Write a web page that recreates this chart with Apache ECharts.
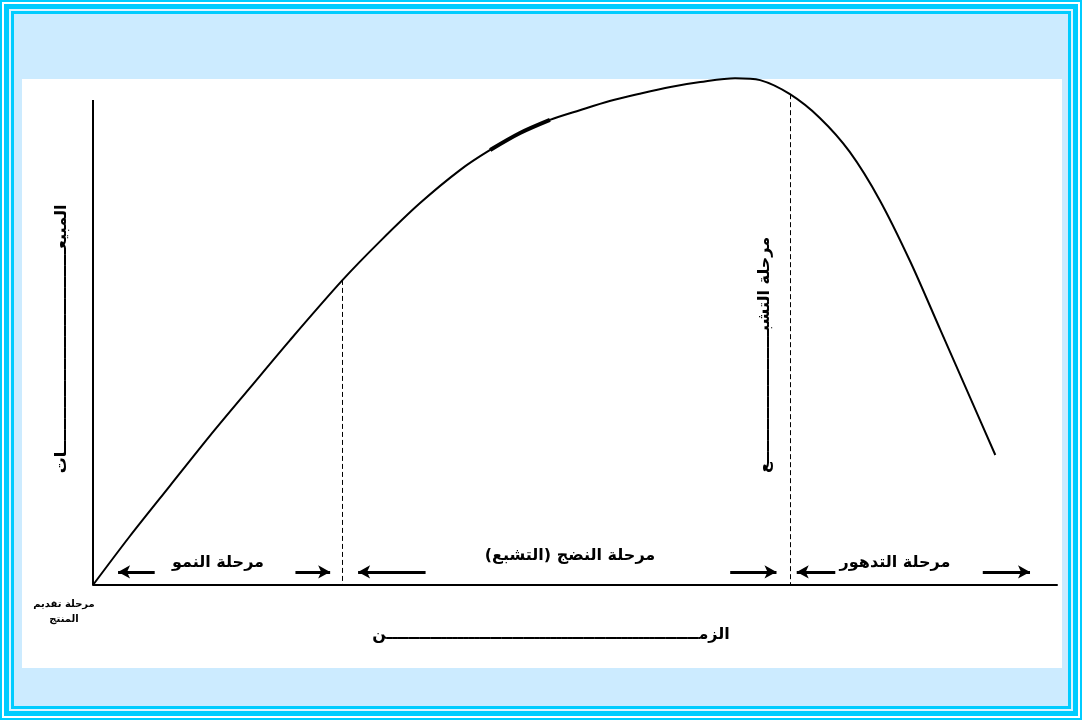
<!DOCTYPE html>
<html>
<head>
<meta charset="utf-8">
<script src="https://cdn.jsdelivr.net/npm/echarts@6/dist/echarts.min.js"></script>
<style>
  html, body { margin: 0; padding: 0; background: #ffffff; }
  #chart { width: 1082px; height: 720px; }
</style>
</head>
<body>
<div id="chart"></div>
<script>
// Product life cycle: sales over time
const timeValues  = [0, 3.8, 8.0, 12.1, 16.3, 20.4, 25.9, 29.8, 33.9, 38.1, 41.2, 44.3, 47.4, 50.5, 53.6, 56.7, 59.9, 63.0, 66.6, 69.2, 72.3, 75.4, 78.5, 81.6, 84.8, 87.9, 91.0, 93.6];
const salesValues = [0, 10.0, 20.5, 30.7, 40.7, 50.4, 62.9, 70.9, 78.7, 85.6, 89.7, 93.2, 95.9, 97.9, 99.8, 101.3, 102.7, 103.7, 104.5, 104.1, 101.2, 96.3, 89.3, 79.4, 66.6, 52.6, 38.6, 26.8];

// heavier stroke on part of the maturity rise
const accentTime  = [41.2, 44.3, 47.4];
const accentSales = [89.7, 93.2, 95.9];

// indices in the series where stages change (growth→maturity, maturity→decline)
const stageBoundaryIdx = [6, 20];

// stage span arrows: [tail, head] in time units
const stageArrows = [[6.4, 2.6], [21.0, 24.6], [34.5, 27.5], [66.1, 70.9], [77.0, 73.0], [92.3, 97.2]];
const arrowLevel = 2.7;

const stageNames = ['مرحلة النمو', 'مرحلة النضج (التشبع)\u200F', 'مرحلة التدهور'];
const introLabel = 'مرحلة تقديم\nالمنتج';
const satLabel = 'مرحلة التشبــــــــــــــــــــــــع';
const yName = 'المبيعـــــــــــــــــــــــــــــــــــــات';
const xName = 'الزمـــــــــــــــــــــــــــــــــــــــــــــــــــــــــن';

const FONT = '"DejaVu Sans", "Noto Sans", sans-serif';
const CYAN = '#00CCFF';
const PALE = '#CCEBFF';

const curve = timeValues.map((t, i) => [t, salesValues[i]]);
const accent = accentTime.map((t, i) => [t, accentSales[i]]);

const dashed = stageBoundaryIdx.map(i => [
  { coord: [timeValues[i], salesValues[i]] },
  { coord: [timeValues[i], 0] }
]);
const arrows = stageArrows.map(a => [
  { coord: [a[0], arrowLevel], symbol: 'none' },
  { coord: [a[1], arrowLevel], symbol: 'arrow' }
]);

const chart = echarts.init(document.getElementById('chart'), null, { renderer: 'canvas' });

const frame = [
  { x: 0, y: 0, w: 1082, h: 720, c: CYAN },
  { x: 2, y: 2, w: 1078, h: 716, c: '#ffffff' },
  { x: 4, y: 4, w: 1074, h: 712, c: CYAN },
  { x: 9, y: 9, w: 1064, h: 702, c: '#DDF3FF' },
  { x: 11, y: 11, w: 1060, h: 698, c: CYAN },
  { x: 14, y: 14, w: 1054, h: 692, c: PALE },
  { x: 22, y: 79, w: 1040, h: 589, c: '#ffffff' }
].map(r => ({
  type: 'rect', silent: true, z: -10,
  shape: { x: r.x, y: r.y, width: r.w, height: r.h },
  style: { fill: r.c }
}));

function txt(x, y, text, size, extra) {
  const style = {
    text: text, fill: '#000', font: 'bold ' + size + 'px ' + FONT,
    textAlign: 'center', textVerticalAlign: 'middle'
  };
  return Object.assign({ type: 'text', x: x, y: y, silent: true, z: 10, style: style }, extra || {});
}

chart.setOption({
  animation: false,
  backgroundColor: 'transparent',
  // 100 units of sales span 485px; the axis is extended to 105 so the peak fits
  grid: { left: 93, right: 25, top: 75.75, bottom: 135 },
  xAxis: {
    type: 'value', min: 0, max: 100,
    axisLine: { show: true, lineStyle: { color: '#000', width: 2 } },
    axisTick: { show: false }, axisLabel: { show: false }, splitLine: { show: false }
  },
  yAxis: {
    type: 'value', min: 0, max: 105,
    axisLine: { show: false },
    axisTick: { show: false }, axisLabel: { show: false }, splitLine: { show: false }
  },
  graphic: frame.concat([
    txt(218, 563, stageNames[0], 16),
    txt(570, 556, stageNames[1], 16),
    txt(895, 563, stageNames[2], 16),
    {
      type: 'text', x: 64, y: 612, silent: true, z: 10,
      style: {
        text: introLabel, fill: '#000', font: 'bold 10px ' + FONT,
        textAlign: 'center', textVerticalAlign: 'middle', lineHeight: 15
      }
    },
    txt(551, 635, xName, 16),
    txt(62, 339, yName, 16, { rotation: Math.PI / 2 }),
    txt(765, 355, satLabel, 16, { rotation: Math.PI / 2 })
  ]),
  series: [
    {
      type: 'line', data: curve, smooth: 0.3, showSymbol: false, clip: false,
      lineStyle: { color: '#000', width: 2 }, silent: true,
      markLine: {
        silent: true, symbol: 'none', animation: false,
        label: { show: false },
        lineStyle: { color: '#000', width: 1, type: [5, 3] },
        data: dashed
      }
    },
    {
      type: 'line', data: accent, smooth: 0.3, showSymbol: false, clip: false,
      lineStyle: { color: '#000', width: 4 }, silent: true
    },
    {
      // vertical sales axis, drawn only up to 100
      type: 'line', data: [], silent: true,
      markLine: {
        silent: true, animation: false, symbol: 'none',
        label: { show: false },
        lineStyle: { color: '#000', width: 2, type: 'solid' },
        data: [[{ coord: [0, 0] }, { coord: [0, 100] }]]
      }
    },
    {
      type: 'line', data: [], silent: true,
      markLine: {
        silent: true, animation: false, symbolSize: [10, 12],
        label: { show: false },
        lineStyle: { color: '#000', width: 3, type: 'solid' },
        data: arrows
      }
    }
  ]
});
</script>
</body>
</html>
